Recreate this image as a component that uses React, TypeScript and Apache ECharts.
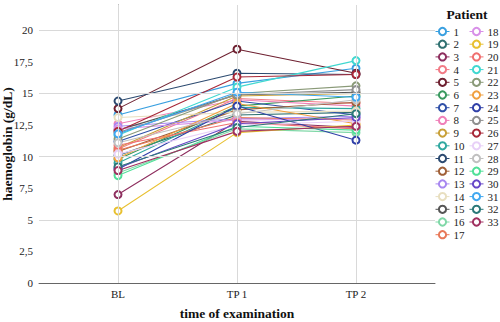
import React, { useEffect, useRef } from "react";
import * as echarts from "echarts";

const categories = ["BL", "TP 1", "TP 2"];
const patients = Array.from({ length: 33 }, (_, i) => String(i + 1));
const yTicks = [0, 2.5, 5, 7.5, 10, 12.5, 15, 17.5, 20];
const gridValues = [5, 10, 15, 20];

const bl = [13.3, 10.1, 7.0, 10.6, 13.8, 9.8, 11.2, 12.6, 10.7, 9.5, 14.4, 10.4, 12.4, 13.1, 12.1, 8.7, 10.5,
  12.2, 5.7, 10.9, 11.7, 11.4, 9.9, 9.0, 11.9, 12.0, 10.2, 11.1, 8.5, 9.1, 11.8, 9.2, 8.9];
const tp1 = [15.8, 13.3, 12.8, 14.6, 18.5, 14.0, 14.4, 14.5, 14.8, 13.9, 16.6, 13.7, 13.0, 13.5, 14.9, 12.2, 13.1,
  12.9, 11.9, 12.7, 15.5, 15.0, 14.2, 14.0, 14.9, 16.3, 12.5, 13.4, 12.4, 12.6, 15.1, 12.3, 12.0];
const tp2 = [17.0, 13.5, 12.3, 14.2, 16.6, 14.8, 13.3, 14.0, 15.0, 13.8, 16.5, 14.3, 13.2, 13.6, 15.1, 11.9, 12.9,
  13.0, 12.5, 12.2, 17.6, 15.6, 12.6, 11.3, 15.3, 16.5, 12.8, 14.5, 12.1, 13.1, 14.7, 13.4, 12.4];

const colors = [
  "#3aa0e0", "#2f7070", "#8e2f5f", "#f27a85", "#6e2030", "#3a9a60", "#3050a8", "#f080b8", "#c8a038",
  "#30a8a0", "#2c4a70", "#a06038", "#a888f0", "#e8dfc0", "#555555", "#80d8a8", "#e87858",
  "#d890e8", "#e8c030", "#f07070", "#40d8d0", "#8a9a78", "#f0a040", "#3040a8", "#909090",
  "#a82838", "#e8d0f8", "#c0c0c0", "#50e098", "#6848c8", "#40a8f0", "#2a7878", "#a03060",
];

const FONT = "Liberation Serif";

export default function App() {
  const ref = useRef<HTMLDivElement>(null);
  useEffect(() => {
    if (!ref.current) return;
    const chart = echarts.init(ref.current, null, { renderer: "svg" });
    const patientSeries = patients.map((p, i) => ({
      name: p,
      type: "line",
      xAxisIndex: 0,
      yAxisIndex: 0,
      data: [[0, bl[i]], [1, tp1[i]], [2, tp2[i]]],
      symbol: "emptyCircle",
      symbolSize: 7,
      color: colors[i],
      lineStyle: { width: 1.1, color: colors[i] },
      itemStyle: { color: colors[i], borderWidth: 1 },
      emphasis: { disabled: true },
      z: 3,
    }));
    const helper = {
      name: "grid",
      type: "line",
      data: [],
      silent: true,
      z: 1,
      markLine: {
        silent: true,
        symbol: "none",
        label: { show: false },
        lineStyle: { color: "#d9d9d9", width: 1, type: "solid" },
        emphasis: { disabled: true },
        data: [
          ...[0, 1, 2].map((v) => ({ xAxis: v })),
          ...gridValues.map((v) => ({ yAxis: v })),
        ],
      },
    };
    const legendBase = {
      orient: "vertical",
      itemWidth: 14,
      itemHeight: 9,
      itemGap: 1.7,
      selectedMode: false,
      itemStyle: { borderWidth: 0.8 },
      lineStyle: { width: 1 },
      textStyle: { fontFamily: FONT, fontSize: 11, color: "#222", lineHeight: 10, padding: [0, 0, 0, -1] },
      padding: 0,
    };
    chart.setOption({
      animation: false,
      textStyle: { fontFamily: FONT },
      grid: { left: 39, right: 65, top: 5, bottom: 39, containLabel: false, outerBoundsMode: "none" },
      xAxis: {
        type: "value",
        min: -0.664,
        max: 2.664,
        name: "time of examination",
        nameLocation: "middle",
        nameGap: 23,
        nameMoveOverlap: false,
        nameTextStyle: { fontFamily: FONT, fontSize: 13.5, fontWeight: "bold", color: "#111", verticalAlign: "top" },
        axisLine: { lineStyle: { color: "#666", width: 1 } },
        axisTick: { show: false },
        splitLine: { show: false },
        axisLabel: {
          customValues: [0, 1, 2],
          formatter: (v: number) => categories[Math.round(v)] ?? "",
          fontFamily: FONT,
          fontSize: 11,
          color: "#222",
          margin: 5,
        },
      },
      yAxis: {
        type: "value",
        min: 0,
        max: 22,
        name: "haemoglobin (g/dL)",
        nameLocation: "middle",
        nameGap: 25,
        nameMoveOverlap: false,
        nameTextStyle: { fontFamily: FONT, fontSize: 13.5, fontWeight: "bold", color: "#111" },
        axisLine: { show: true, lineStyle: { color: "#666", width: 1 } },
        axisTick: { show: false },
        splitLine: { show: false },
        axisLabel: {
          customValues: yTicks,
          formatter: (v: number) => String(v).replace(".", ","),
          fontFamily: FONT,
          fontSize: 11,
          color: "#222",
          margin: 6,
        },
      },
      legend: [
        { ...legendBase, left: 435, top: 26, data: patients.slice(0, 17) },
        { ...legendBase, left: 469, top: 26, data: patients.slice(17) },
      ],
      graphic: [
        {
          type: "text",
          x: 467,
          y: 14,
          style: {
            text: "Patient",
            fontFamily: FONT,
            fontSize: 13.5,
            fontWeight: "bold",
            fill: "#111",
            align: "center",
            verticalAlign: "middle",
          },
        },
      ],
      series: [helper, ...patientSeries],
    });
    return () => chart.dispose();
  }, []);
  return <div ref={ref} style={{ width: 500, height: 322, position: "absolute", left: 0, top: 0 }} />;
}
